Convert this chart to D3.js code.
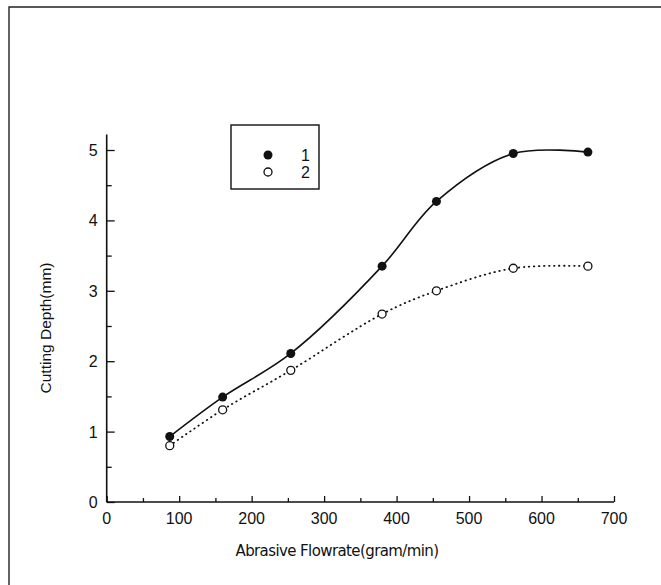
<!DOCTYPE html>
<html>
<head>
<meta charset="utf-8">
<script src="https://cdn.jsdelivr.net/npm/d3@7"></script>
<style>
  body { margin: 0; background: #fff; }
  text { fill: #111; }
</style>
</head>
<body>
<svg id="chart" width="661" height="585"></svg>
<script>
const flowrate = [87, 160, 254, 380, 455, 561, 664];
const depth1 = [0.93, 1.49, 2.11, 3.35, 4.27, 4.95, 4.97];
const depth2 = [0.80, 1.31, 1.87, 2.67, 3.00, 3.32, 3.35];
const xTicks = [0, 100, 200, 300, 400, 500, 600, 700];
const yTicks = [0, 1, 2, 3, 4, 5];
const legendLabels = ["1", "2"];

const svg = d3.select("#chart");
const ink = "#111";
const tickFont = "16px 'Liberation Sans', sans-serif";

const x = d3.scaleLinear().domain([0, 700]).range([106.7, 614]);
const y = d3.scaleLinear().domain([0, 5]).range([502, 150]);

// page frame (only top and left edges show)
svg.append("path")
  .attr("d", "M9,585 L9,7 L661,7")
  .attr("fill", "none")
  .attr("stroke", "#222")
  .attr("stroke-width", 1.4);

// axes
const xAxis = svg.append("g").attr("transform", `translate(0,${y(0)})`);
xAxis.call(d3.axisTop(x).tickValues(d3.range(50, 700, 100)).tickSize(4).tickFormat(""));
xAxis.call(g => g.append("g").call(d3.axisTop(x).tickValues(xTicks).tickSize(6).tickFormat("")));
xAxis.selectAll(".domain").remove();
xAxis.append("line")
  .attr("x1", x(0)).attr("x2", x(700))
  .attr("stroke", ink).attr("stroke-width", 1.6);
xAxis.selectAll(".tick line").attr("stroke", ink).attr("stroke-width", 1.3);

svg.append("g").selectAll("text")
  .data(xTicks)
  .enter()
  .append("text")
  .attr("x", d => x(d))
  .attr("y", y(0) + 22)
  .attr("text-anchor", "middle")
  .style("font", tickFont)
  .text(d => d);

const yAxis = svg.append("g").attr("transform", `translate(${x(0)},0)`);
yAxis.call(d3.axisRight(y).tickValues([0.5, 1.5, 2.5, 3.5, 4.5]).tickSize(5).tickFormat(""));
yAxis.call(g => g.append("g").call(d3.axisRight(y).tickValues(yTicks).tickSize(8).tickFormat("")));
yAxis.selectAll(".domain").remove();
yAxis.append("line")
  .attr("y1", y(0)).attr("y2", y(5.22))
  .attr("stroke", ink).attr("stroke-width", 1.6);
yAxis.selectAll(".tick line").attr("stroke", ink).attr("stroke-width", 1.3);

svg.append("g").selectAll("text")
  .data(yTicks)
  .enter()
  .append("text")
  .attr("x", x(0) - 9)
  .attr("y", d => y(d) + 6)
  .attr("text-anchor", "end")
  .style("font", tickFont)
  .text(d => d);

// axis titles
svg.append("text")
  .attr("transform", "translate(51,328) rotate(-90)")
  .attr("text-anchor", "middle")
  .style("font", "15.5px 'Liberation Sans', sans-serif")
  .text("Cutting Depth(mm)");

svg.append("text")
  .attr("x", 337)
  .attr("y", 556)
  .attr("text-anchor", "middle")
  .style("font", "15px 'DejaVu Sans', sans-serif")
  .style("letter-spacing", "-0.6px")
  .text("Abrasive Flowrate(gram/min)");

// curves
const pts1 = flowrate.map((f, i) => [f, depth1[i]]);
const pts2 = flowrate.map((f, i) => [f, depth2[i]]);
const line = d3.line().x(d => x(d[0])).y(d => y(d[1])).curve(d3.curveCatmullRom.alpha(0.5));

svg.append("path")
  .attr("d", line(pts1))
  .attr("fill", "none")
  .attr("stroke", ink)
  .attr("stroke-width", 1.6);

svg.append("path")
  .attr("d", line(pts2))
  .attr("fill", "none")
  .attr("stroke", ink)
  .attr("stroke-width", 1.8)
  .attr("stroke-linecap", "round")
  .attr("stroke-dasharray", "0.5,4.5");

svg.append("g").selectAll("circle")
  .data(pts1)
  .enter()
  .append("circle")
  .attr("cx", d => x(d[0]))
  .attr("cy", d => y(d[1]))
  .attr("r", 4.5)
  .attr("fill", ink);

svg.append("g").selectAll("circle")
  .data(pts2)
  .enter()
  .append("circle")
  .attr("cx", d => x(d[0]))
  .attr("cy", d => y(d[1]))
  .attr("r", 4)
  .attr("fill", "#fff")
  .attr("stroke", ink)
  .attr("stroke-width", 1.3);

// legend
const legend = svg.append("g");
legend.append("rect")
  .attr("x", 231).attr("y", 125)
  .attr("width", 88).attr("height", 64)
  .attr("fill", "none")
  .attr("stroke", ink)
  .attr("stroke-width", 1.4);

legendLabels.forEach((lab, i) => {
  const cy = 155 + i * 17;
  legend.append("circle")
    .attr("cx", 268).attr("cy", cy)
    .attr("r", i === 0 ? 4.5 : 4)
    .attr("fill", i === 0 ? ink : "#fff")
    .attr("stroke", ink)
    .attr("stroke-width", i === 0 ? 0 : 1.3);
  legend.append("text")
    .attr("x", 301).attr("y", cy + 6)
    .style("font", tickFont)
    .text(lab);
});
</script>
</body>
</html>
